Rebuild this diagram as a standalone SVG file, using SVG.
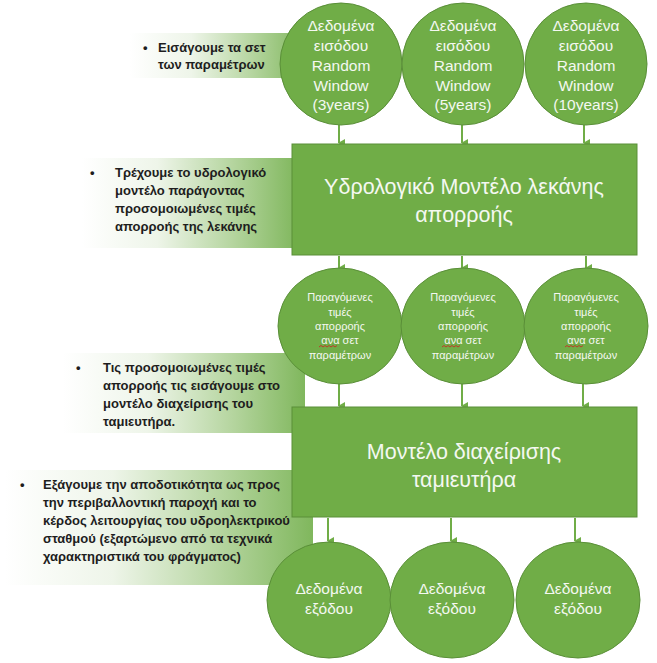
<svg xmlns="http://www.w3.org/2000/svg" width="657" height="663" viewBox="0 0 657 663">
<defs>
<linearGradient id="fade" x1="0" y1="0" x2="1" y2="0">
<stop offset="0" stop-color="#ffffff"/>
<stop offset="0.35" stop-color="#eef5e9"/>
<stop offset="0.7" stop-color="#b5d59f"/>
<stop offset="1" stop-color="#80b75d"/>
</linearGradient>
<marker id="ah" markerWidth="8" markerHeight="8" refX="4" refY="6" orient="auto" markerUnits="userSpaceOnUse" viewBox="0 0 8 8">
<path d="M0,0 L8,0 L4,7 Z" fill="#70ad47"/>
</marker>
</defs>
<style>
.note{font-family:"Liberation Sans",Arial,sans-serif;font-weight:bold;font-size:13px;fill:#1e1e1e}
.shape{fill:#70ad47;stroke:#5a8f38;stroke-width:1}
.ct{font-family:"Liberation Sans",Arial,sans-serif;fill:#f4f8f1;text-anchor:middle}
.big{font-size:15.5px}
.small{font-size:11px}
.title{font-size:21.5px}
.conn line{stroke:#70ad47;stroke-width:2;marker-end:url(#ah)}
.wavy{fill:none;stroke:#d02020;stroke-width:0.8}
</style>

<!-- notes (gradient boxes) -->
<g id="note1">
<rect x="130" y="33" width="175" height="45" fill="url(#fade)"/>
<text class="note" x="143" y="52">•</text>
<text class="note" x="158" y="52">Εισάγουμε τα σετ</text>
<text class="note" x="158" y="69">των παραμέτρων</text>
</g>
<g id="note2">
<rect x="82" y="158" width="215" height="90" fill="url(#fade)"/>
<text class="note" x="90" y="177">•</text>
<text class="note" x="115" y="177">Τρέχουμε το υδρολογικό</text>
<text class="note" x="115" y="195">μοντέλο παράγοντας</text>
<text class="note" x="115" y="213">προσομοιωμένες τιμές</text>
<text class="note" x="115" y="231">απορροής της λεκάνης</text>
</g>
<g id="note3">
<rect x="63" y="353" width="242" height="80" fill="url(#fade)"/>
<text class="note" x="76" y="372">•</text>
<text class="note" x="103" y="372">Τις προσομοιωμένες τιμές</text>
<text class="note" x="103" y="390">απορροής τις εισάγουμε στο</text>
<text class="note" x="103" y="408">μοντέλο διαχείρισης του</text>
<text class="note" x="103" y="426">ταμιευτήρα.</text>
</g>
<g id="note4">
<rect x="5" y="470" width="308" height="115" fill="url(#fade)"/>
<text class="note" x="20" y="489">•</text>
<text class="note" x="43" y="489">Εξάγουμε την αποδοτικότητα ως προς</text>
<text class="note" x="43" y="507">την περιβαλλοντική παροχή και το</text>
<text class="note" x="43" y="525">κέρδος λειτουργίας του υδροηλεκτρικού</text>
<text class="note" x="43" y="543">σταθμού (εξαρτώμενο από τα τεχνικά</text>
<text class="note" x="43" y="561">χαρακτηριστικά του φράγματος)</text>
</g>

<!-- connectors -->
<g id="connectors" class="conn">
<line x1="339" y1="125" x2="339" y2="143"/>
<line x1="462" y1="125" x2="462" y2="143"/>
<line x1="584" y1="125" x2="584" y2="143"/>
<line x1="339" y1="256" x2="339" y2="268"/>
<line x1="462" y1="256" x2="462" y2="268"/>
<line x1="586" y1="256" x2="586" y2="268"/>
<line x1="339" y1="384" x2="339" y2="406"/>
<line x1="462" y1="384" x2="462" y2="406"/>
<line x1="583" y1="384" x2="583" y2="406"/>
<line x1="328" y1="518" x2="328" y2="541"/>
<line x1="451" y1="518" x2="451" y2="541"/>
<line x1="575" y1="518" x2="575" y2="541"/>
</g>

<!-- top input circles -->
<g id="in1">
<circle class="shape" cx="341" cy="64" r="61"/>
<text class="ct big" x="341" y="31">Δεδομένα</text>
<text class="ct big" x="341" y="51">εισόδου</text>
<text class="ct big" x="341" y="71">Random</text>
<text class="ct big" x="341" y="91">Window</text>
<text class="ct big" x="341" y="110">(3years)</text>
</g>
<g id="in2">
<circle class="shape" cx="463" cy="64" r="61"/>
<text class="ct big" x="463" y="31">Δεδομένα</text>
<text class="ct big" x="463" y="51">εισόδου</text>
<text class="ct big" x="463" y="71">Random</text>
<text class="ct big" x="463" y="91">Window</text>
<text class="ct big" x="463" y="110">(5years)</text>
</g>
<g id="in3">
<circle class="shape" cx="586" cy="64" r="61"/>
<text class="ct big" x="586" y="31">Δεδομένα</text>
<text class="ct big" x="586" y="51">εισόδου</text>
<text class="ct big" x="586" y="71">Random</text>
<text class="ct big" x="586" y="91">Window</text>
<text class="ct big" x="586" y="110">(10years)</text>
</g>

<!-- hydrological model -->
<g id="hydro">
<rect class="shape" x="292" y="144" width="345" height="111"/>
<text class="ct title" x="464" y="194">Υδρολογικό Μοντέλο λεκάνης</text>
<text class="ct title" x="464" y="222">απορροής</text>
</g>

<!-- middle circles -->
<g id="mid1">
<ellipse class="shape" cx="340" cy="326" rx="62" ry="58"/>
<text class="ct small" x="340" y="301">Παραγόμενες</text>
<text class="ct small" x="340" y="316">τιμές</text>
<text class="ct small" x="340" y="330">απορροής</text>
<text class="ct small" x="340" y="344">ανα σετ</text>
<text class="ct small" x="340" y="359">παραμέτρων</text>
<path class="wavy" d="M319,347 l2,-1.5 l2,1.5 l2,-1.5 l2,1.5 l2,-1.5 l2,1.5 l2,-1.5 l2,1.5 l2,-1.5"/>
</g>
<g id="mid2">
<ellipse class="shape" cx="463" cy="326" rx="62" ry="58"/>
<text class="ct small" x="463" y="301">Παραγόμενες</text>
<text class="ct small" x="463" y="316">τιμές</text>
<text class="ct small" x="463" y="330">απορροής</text>
<text class="ct small" x="463" y="344">ανα σετ</text>
<text class="ct small" x="463" y="359">παραμέτρων</text>
<path class="wavy" d="M442,347 l2,-1.5 l2,1.5 l2,-1.5 l2,1.5 l2,-1.5 l2,1.5 l2,-1.5 l2,1.5 l2,-1.5"/>
</g>
<g id="mid3">
<ellipse class="shape" cx="586" cy="326" rx="62" ry="58"/>
<text class="ct small" x="586" y="301">Παραγόμενες</text>
<text class="ct small" x="586" y="316">τιμές</text>
<text class="ct small" x="586" y="330">απορροής</text>
<text class="ct small" x="586" y="344">ανα σετ</text>
<text class="ct small" x="586" y="359">παραμέτρων</text>
<path class="wavy" d="M565,347 l2,-1.5 l2,1.5 l2,-1.5 l2,1.5 l2,-1.5 l2,1.5 l2,-1.5 l2,1.5 l2,-1.5"/>
</g>

<!-- reservoir model -->
<g id="reservoir">
<rect class="shape" x="292" y="407" width="345" height="110"/>
<text class="ct title" x="464" y="459">Μοντέλο διαχείρισης</text>
<text class="ct title" x="464" y="487">ταμιευτήρα</text>
</g>

<!-- output circles -->
<g id="out1">
<ellipse class="shape" cx="329" cy="600" rx="62" ry="58"/>
<text class="ct big" x="329" y="594">Δεδομένα</text>
<text class="ct big" x="329" y="614">εξόδου</text>
</g>
<g id="out2">
<ellipse class="shape" cx="452" cy="600" rx="62" ry="58"/>
<text class="ct big" x="452" y="594">Δεδομένα</text>
<text class="ct big" x="452" y="614">εξόδου</text>
</g>
<g id="out3">
<ellipse class="shape" cx="578" cy="600" rx="62" ry="58"/>
<text class="ct big" x="578" y="594">Δεδομένα</text>
<text class="ct big" x="578" y="614">εξόδου</text>
</g>
</svg>
